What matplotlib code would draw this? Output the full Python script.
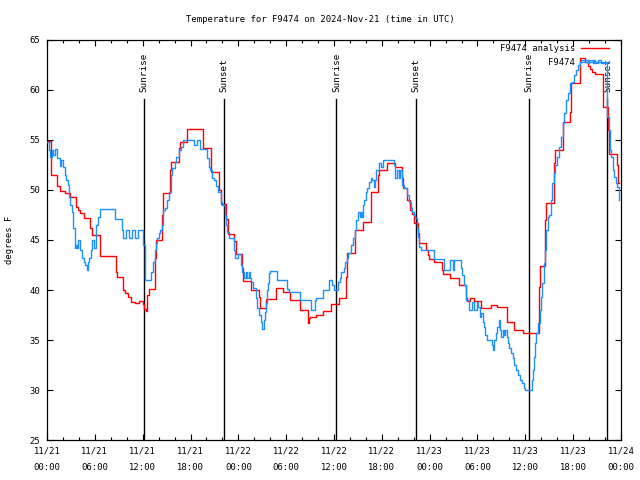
import matplotlib
matplotlib.use("Agg")
import matplotlib.pyplot as plt
from matplotlib.ticker import MultipleLocator

# ---------------- data ----------------
title = "Temperature for F9474 on 2024-Nov-21 (time in UTC)"
ylabel = "degrees F"

# hours since 2024-11-21 00:00 UTC
tick_hours = [0, 6, 12, 18, 24, 30, 36, 42, 48, 54, 60, 66, 72]
tick_labels = ["11/21\n00:00", "11/21\n06:00", "11/21\n12:00", "11/21\n18:00",
               "11/22\n00:00", "11/22\n06:00", "11/22\n12:00", "11/22\n18:00",
               "11/23\n00:00", "11/23\n06:00", "11/23\n12:00", "11/23\n18:00",
               "11/24\n00:00"]

sun_labels = ["Sunrise", "Sunset", "Sunrise", "Sunset", "Sunrise", "Sunset"]
sun_hours = [12.2, 22.2, 36.3, 46.3, 60.4, 70.3]

analysis_label = "F9474 analysis"
analysis_hours = [0.0, 0.5, 1.3, 1.6, 2.2, 2.9, 3.6, 3.9, 4.2, 4.6, 5.4, 5.6,
                  6.6, 8.6, 8.8, 9.5, 9.8, 10.1, 10.5, 11.0, 11.6, 12.0, 12.2,
                  12.4, 12.6, 12.8, 13.5, 13.7, 14.4, 14.6, 15.4, 15.6, 16.5,
                  16.7, 17.5, 19.6, 20.6, 21.6, 21.8, 22.5, 22.7, 23.5, 23.7,
                  24.4, 24.6, 25.6, 26.6, 26.7, 27.5, 28.7, 29.6, 30.5, 31.7,
                  32.7, 32.9, 33.0, 33.7, 34.6, 35.6, 36.6, 37.5, 37.6, 38.6,
                  39.6, 40.7, 41.5, 41.6, 42.6, 43.6, 44.5, 44.6, 45.1, 45.5,
                  45.8, 46.0, 46.5, 46.6, 47.6, 47.8, 47.9, 48.6, 49.6, 49.7,
                  50.6, 51.7, 52.6, 52.7, 53.1, 53.6, 54.5, 55.7, 56.5, 57.7,
                  58.6, 59.7, 61.7, 61.8, 62.5, 62.6, 63.6, 63.7, 64.7, 65.6,
                  65.7, 66.8, 67.5, 67.8, 68.1, 68.4, 68.7, 69.7, 70.4, 70.5,
                  71.5, 71.6, 71.8]
analysis_values = [54.9, 51.5, 50.4, 49.9, 49.7, 49.3, 48.3, 48.0, 47.7, 47.2, 46.2, 45.5,
                   43.4, 41.8, 41.3, 40.0, 39.7, 39.3, 38.8, 38.7, 38.9, 38.6, 38.1,
                   37.9, 39.5, 40.1, 43.2, 45.0, 47.5, 49.7, 52.0, 52.8, 54.2,
                   54.8, 56.1, 54.2, 51.8, 50.0, 48.6, 47.1, 45.6, 44.9, 43.6,
                   42.2, 40.9, 40.0, 39.3, 38.2, 39.1, 40.2, 39.8, 39.0, 38.0,
                   36.7, 37.2, 37.3, 37.5, 37.9, 38.6, 39.2, 41.3, 43.7, 46.0,
                   46.8, 49.8, 51.5, 52.0, 52.7, 52.3, 51.2, 50.2, 49.0, 48.0,
                   47.6, 46.7, 45.7, 44.7, 44.0, 43.5, 43.1, 42.8, 42.0, 41.6,
                   41.2, 40.5, 39.2, 38.9, 39.2, 38.9, 38.2, 38.5, 38.3, 36.8,
                   36.0, 35.7, 40.3, 42.4, 47.0, 48.7, 52.7, 54.0, 56.8, 57.8,
                   60.7, 63.2, 62.8, 62.4, 62.1, 61.8, 61.6, 58.3, 56.0, 53.6,
                   52.5, 50.7, 50.7]

obs_label = "F9474"
obs_hours = [0.0, 0.2, 0.4, 0.6, 0.8, 1.0, 1.2, 1.6, 1.8, 2.0, 2.2, 2.4, 2.6, 2.8,
             2.9, 3.1, 3.2, 3.3, 3.45, 3.55, 3.7, 3.8, 3.9, 4.2, 4.4, 4.6, 4.8,
             5.0, 5.1, 5.3, 5.5, 5.7, 5.85, 6.1, 6.2, 6.4, 6.6, 8.5, 9.4, 9.5,
             9.9, 10.3, 10.7, 11.1, 11.4, 12.1, 12.25, 12.35, 13.0, 13.3, 13.5,
             13.7, 13.85, 14.0, 14.2, 14.4, 14.6, 14.8, 15.0, 15.3, 15.5, 15.7,
             16.0, 16.2, 16.5, 16.8, 17.1, 18.5, 18.8, 19.2, 20.1, 20.3, 20.5,
             20.7, 20.9, 21.2, 21.5, 21.8, 22.0, 22.3, 22.5, 22.6, 22.8, 23.5,
             23.6, 23.9, 24.3, 24.5, 24.7, 24.9, 25.1, 25.3, 25.5, 25.6, 25.8,
             26.2, 26.4, 26.6, 26.8, 27.0, 27.2, 27.3, 27.45, 27.55, 27.7,
             27.85, 28.0, 28.9, 30.1, 30.4, 31.7, 33.1, 33.6, 33.8, 34.6, 35.4,
             35.8, 36.0, 36.5, 36.7, 36.9, 37.2, 37.4, 37.6, 37.8, 38.1, 38.4,
             38.6, 38.8, 39.0, 39.2, 39.35, 39.5, 39.6, 39.8, 40.0, 40.2, 40.4,
             40.6, 40.8, 41.0, 41.2, 41.3, 41.7, 41.9, 42.1, 43.5, 43.7, 43.9,
             44.1, 44.3, 44.5, 44.8, 45.1, 45.4, 45.6, 45.75, 46.0, 46.2, 46.4,
             46.55, 46.7, 46.9, 48.6, 49.8, 50.5, 50.9, 51.1, 51.9, 52.1, 52.3,
             52.5, 52.6, 52.9, 53.3, 53.6, 53.9, 54.1, 54.3, 54.5, 54.65, 54.85,
             55.0, 55.2, 55.8, 56.0, 56.1, 56.3, 56.5, 56.65, 56.8, 56.95, 57.2,
             57.35, 57.5, 57.65, 57.8, 58.0, 58.2, 58.4, 58.6, 58.85, 59.05,
             59.3, 59.55, 59.85, 60.0, 60.8, 60.9, 61.1, 61.25, 61.4, 61.6, 61.8,
             61.95, 62.1, 62.3, 62.5, 62.65, 62.8, 63.0, 63.2, 63.35, 63.55,
             63.75, 63.95, 64.2, 64.45, 64.7, 64.9, 65.15, 65.4, 65.6, 65.85,
             66.1, 66.4, 66.6, 66.8, 67.0, 67.9, 68.0, 68.5, 68.6, 68.7, 69.1,
             69.5, 70.2, 70.3, 70.45, 70.6, 70.75, 70.95, 71.15, 71.35, 71.55,
             71.8]
obs_values = [54.8, 54.0, 53.3, 54.0, 53.5, 54.1, 53.2, 52.4, 53.0, 52.3, 51.5, 51.0, 50.5, 49.3,
              48.5, 47.8, 47.2, 46.2, 45.0, 44.2, 44.5, 44.2, 45.0, 44.0, 43.2, 42.8, 42.5,
              42.0, 42.8, 43.2, 44.0, 45.0, 44.2, 45.0, 46.5, 47.3, 48.1, 47.1, 46.0, 45.2,
              46.0, 45.2, 46.0, 45.2, 46.0, 44.5, 43.2, 41.0, 41.8, 42.8, 44.0,
              44.7, 45.2, 45.7, 46.0, 46.5, 48.0, 48.2, 49.0, 49.8, 51.5, 52.2,
              52.8, 53.3, 54.0, 54.3, 55.0, 54.5, 55.0, 54.1, 53.2, 52.3, 52.0,
              51.2, 51.0, 50.4, 49.8, 48.8, 48.5, 47.5, 46.5, 45.8, 45.2, 44.0,
              43.2, 43.6, 42.5, 41.8, 41.2, 41.8, 41.2, 41.8, 41.2, 40.8, 40.2,
              39.2, 38.2, 37.5, 36.8, 36.1, 37.0, 37.8, 38.7, 40.0, 40.7,
              41.7, 41.9, 41.0, 40.1, 39.8, 39.0, 38.0, 39.0, 39.2, 40.0, 41.0,
              40.5, 40.0, 40.8, 41.2, 41.8, 42.2, 42.8, 43.2, 43.7, 44.5, 45.2,
              46.0, 47.0, 47.8, 47.3, 47.8, 47.3, 48.5, 49.0, 49.8, 50.2, 50.8,
              51.2, 51.0, 50.3, 51.0, 52.0, 52.7, 52.3, 53.0, 52.5, 51.2, 52.0,
              51.2, 52.0, 50.5, 50.2, 49.5, 48.8, 48.2, 47.8, 47.5, 47.2, 46.2,
              45.3, 44.3, 44.0, 43.1, 42.0, 43.0, 42.0, 43.0, 42.2, 41.5, 40.5,
              39.5, 39.0, 38.0, 38.8, 38.0, 38.8, 38.3, 37.3, 37.7, 36.8, 36.3,
              35.5, 35.0, 34.5, 34.0, 35.0, 35.7, 36.3, 37.0, 36.0, 35.3, 36.0,
              35.5, 36.0, 35.3, 34.7, 34.2, 33.7, 33.2, 32.5, 32.0, 31.5,
              31.0, 30.7, 30.2, 30.0, 31.0, 32.0, 33.3, 34.7, 35.7, 36.7, 38.0,
              39.3, 40.7, 42.7, 44.0, 46.0, 47.3, 47.5, 49.0, 50.7, 51.7,
              52.5, 53.3, 54.3, 55.3, 56.7, 57.7, 59.0, 59.7, 60.7, 60.8,
              61.5, 62.0, 62.5, 62.8, 63.0, 62.7, 63.0, 62.7, 63.0, 62.7, 63.0,
              62.7, 59.0, 57.3, 56.0, 54.0, 53.3, 52.0, 51.3, 50.7, 50.3,
              49.0]

# ---------------- drawing ----------------
FONT = "DejaVu Sans Mono"
FS = 6.4
plt.rcParams["font.family"] = FONT

fig = plt.figure(figsize=(6.4, 4.8), dpi=100)
ax = fig.add_axes([47 / 640, 40 / 480, 574 / 640, 400 / 480])

for lab, h in zip(sun_labels, sun_hours):
    ax.plot([h, h], [25, 59.1], color="black", lw=1.0, zorder=1)
    ax.text(h, 59.8, lab, rotation=90, ha="center", va="bottom",
            fontsize=FS + 0.3, family=FONT, zorder=1)

ax.plot(analysis_hours, analysis_values, drawstyle="steps-post", color="#ff0000",
        lw=1.0, label=analysis_label, zorder=2)
ax.plot(obs_hours, obs_values, drawstyle="steps-post", color="#1e8fff",
        lw=1.0, label=obs_label, zorder=3)

ax.set_xlim(0, 72)
ax.set_ylim(25, 65)
ax.set_xticks(tick_hours)
ax.set_xticklabels(tick_labels, fontsize=FS, family=FONT, linespacing=2.0)
ax.xaxis.set_minor_locator(MultipleLocator(2))
ax.yaxis.set_major_locator(MultipleLocator(5))
ax.tick_params(axis="both", which="both", direction="in", top=True, right=True,
               width=0.8, color="black")
ax.tick_params(axis="both", which="major", length=4.0, pad=5)
ax.tick_params(axis="both", which="minor", length=2.5)
for lbl in ax.get_yticklabels():
    lbl.set_fontsize(FS)
for sp in ax.spines.values():
    sp.set_linewidth(0.9)

ax.set_ylabel(ylabel, fontsize=FS, family=FONT)
ax.yaxis.set_label_coords(-0.057, 0.5)
fig.text(0.5, 1 - 19 / 480, title, ha="center", va="center", fontsize=FS, family=FONT)

leg = ax.legend(loc="upper right", bbox_to_anchor=(609 / 640, 1 - 44 / 480),
                bbox_transform=fig.transFigure, frameon=False, markerfirst=False,
                fontsize=FS, handlelength=3.1, handletextpad=0.75,
                labelspacing=0.55, borderpad=0, borderaxespad=0)

fig.savefig("out.png", dpi=100)
